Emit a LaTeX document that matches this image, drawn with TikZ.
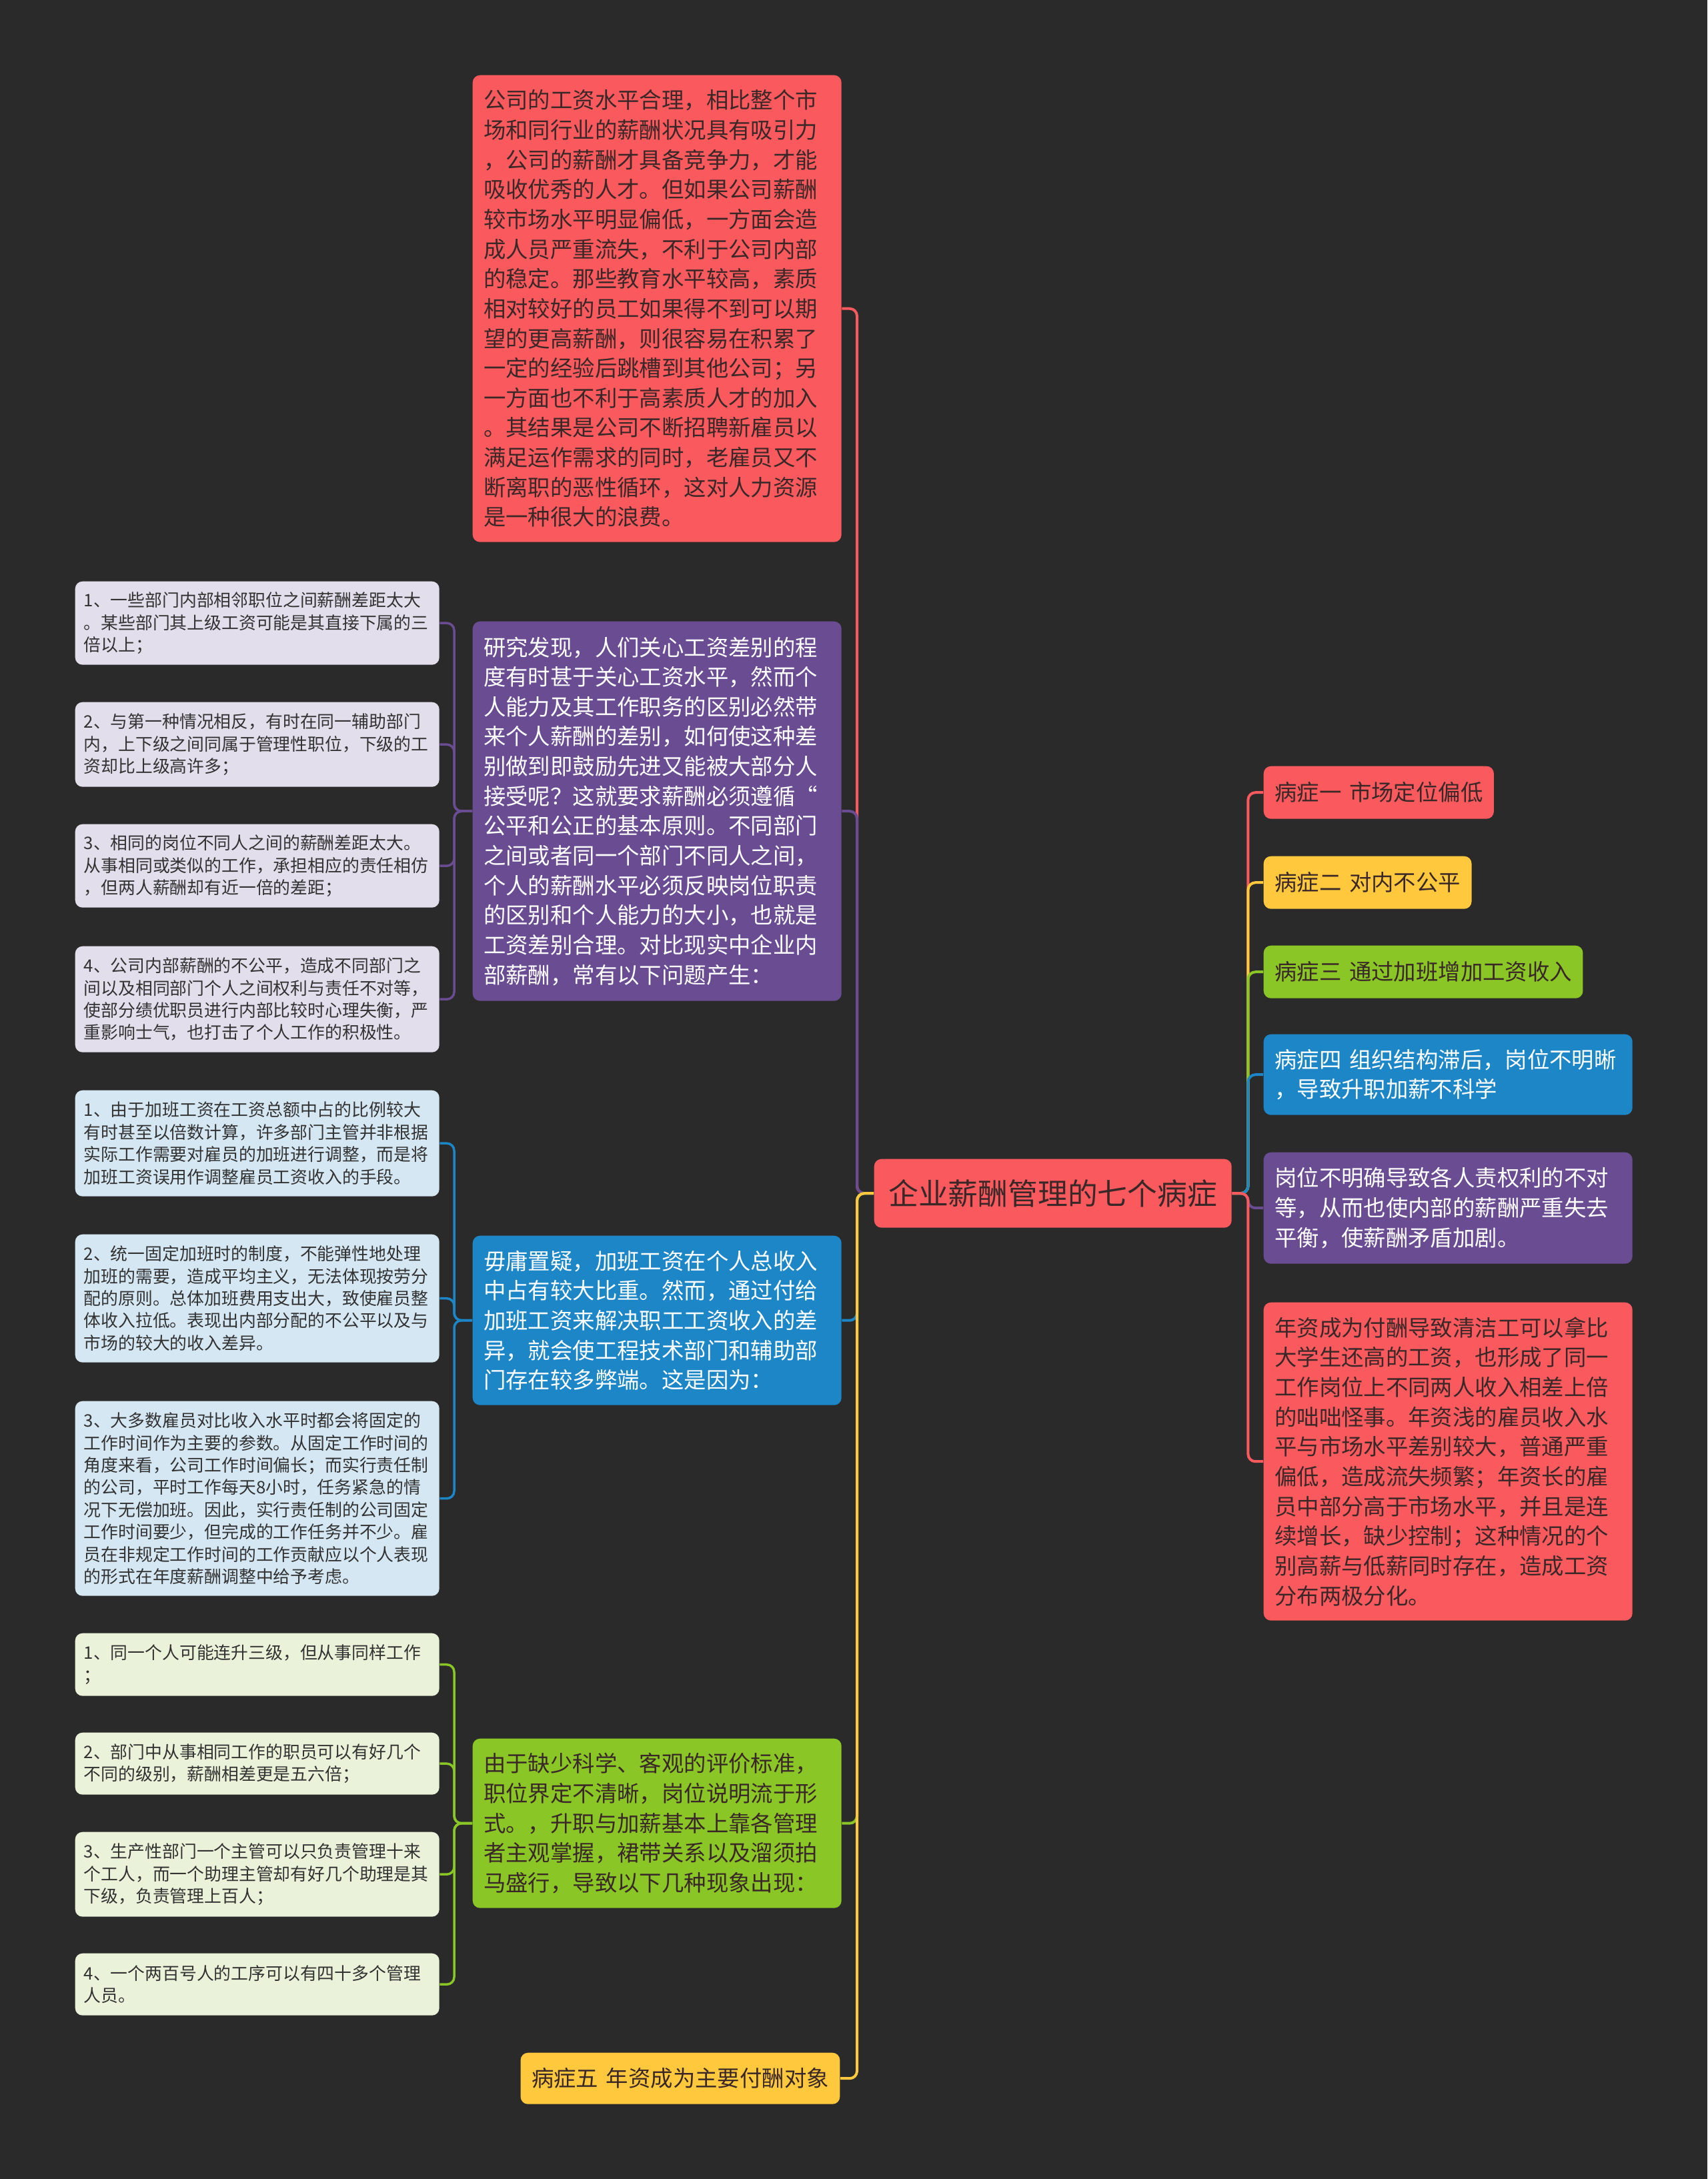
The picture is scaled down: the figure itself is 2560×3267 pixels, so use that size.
\documentclass[tikz,border=0pt]{standalone}
\usepackage{fontspec}
\setmainfont{Noto Sans CJK SC}

\definecolor{bgc}{RGB}{42,42,42}
\definecolor{redc}{RGB}{250,90,93}
\definecolor{yellowc}{RGB}{255,200,61}
\definecolor{greenc}{RGB}{138,198,38}
\definecolor{bluec}{RGB}{28,134,199}
\definecolor{purplec}{RGB}{105,76,146}
\definecolor{lavc}{RGB}{226,222,236}
\definecolor{lbluec}{RGB}{213,231,243}
\definecolor{lgreenc}{RGB}{234,243,217}
\definecolor{darktxt}{RGB}{58,40,40}
\definecolor{leaftxt}{RGB}{50,50,50}

\tikzset{
  box/.style={rounded corners=1.1mm, align=left, inner ysep=0pt},
  big/.style={box, font=\fontsize{9.5pt}{12.7pt}\selectfont, inner xsep=1.65mm},
  bigw/.style={big, text width=52mm},
  leaf/.style={box, anchor=north west, font=\fontsize{7.35pt}{9.5pt}\selectfont,
    inner xsep=1.3mm, text width=52mm, text=leaftxt},
  link/.style={line width=0.4mm, rounded corners=1.1mm},
  sublink/.style={line width=0.35mm, rounded corners=1.1mm}
}

\begin{document}
\begin{tikzpicture}[x=0.1mm,y=-0.1mm]
\fill[bgc] (0,0) rectangle (2560,3267);

% centre
\node[big, anchor=north west, fill=redc, text=darktxt, align=center,
  font=\fontsize{12.75pt}{15pt}\selectfont, minimum width=53.6mm, minimum height=10.3mm]
  (root) at (1310,1737) {企业薪酬管理的七个病症};

% left side
\node[bigw, anchor=north west, fill=redc, text=darktxt, minimum height=70mm] (level) at (708,112) {%
公司的工资水平合理，相比整个市\\
场和同行业的薪酬状况具有吸引力\\
，公司的薪酬才具备竞争力，才能\\
吸收优秀的人才。但如果公司薪酬\\
较市场水平明显偏低，一方面会造\\
成人员严重流失，不利于公司内部\\
的稳定。那些教育水平较高，素质\\
相对较好的员工如果得不到可以期\\
望的更高薪酬，则很容易在积累了\\
一定的经验后跳槽到其他公司；另\\
一方面也不利于高素质人才的加入\\
。其结果是公司不断招聘新雇员以\\
满足运作需求的同时，老雇员又不\\
断离职的恶性循环，这对人力资源\\
是一种很大的浪费。};

\node[bigw, anchor=north west, fill=purplec, text=white, minimum height=56.9mm] (fair) at (708,931) {%
研究发现，人们关心工资差别的程\\
度有时甚于关心工资水平，然而个\\
人能力及其工作职务的区别必然带\\
来个人薪酬的差别，如何使这种差\\
别做到即鼓励先进又能被大部分人\\
接受呢？这就要求薪酬必须遵循“\\
公平和公正的基本原则。不同部门\\
之间或者同一个部门不同人之间，\\
个人的薪酬水平必须反映岗位职责\\
的区别和个人能力的大小，也就是\\
工资差别合理。对比现实中企业内\\
部薪酬，常有以下问题产生：};

\node[bigw, anchor=north west, fill=bluec, text=white, minimum height=25.4mm] (overtime) at (708,1852) {%
毋庸置疑，加班工资在个人总收入\\
中占有较大比重。然而，通过付给\\
加班工资来解决职工工资收入的差\\
异，就会使工程技术部门和辅助部\\
门存在较多弊端。这是因为：};

\node[bigw, anchor=north west, fill=greenc, text=darktxt, minimum height=25.4mm] (promote) at (708,2606) {%
由于缺少科学、客观的评价标准，\\
职位界定不清晰，岗位说明流于形\\
式。，升职与加薪基本上靠各管理\\
者主观掌握，裙带关系以及溜须拍\\
马盛行，导致以下几种现象出现：};

\node[big, anchor=north east, fill=yellowc, text=darktxt, minimum height=7.7mm] (senior) at (1260,3077)
  {病症五\hspace{0.35em}年资成为主要付酬对象};

% leaves
\node[leaf, fill=lavc, minimum height=12.5mm] (fairA) at (112,871) {%
1、一些部门内部相邻职位之间薪酬差距太大\\
。某些部门其上级工资可能是其直接下属的三\\
倍以上；};
\node[leaf, fill=lavc, minimum height=12.7mm] (fairB) at (112,1052) {%
2、与第一种情况相反，有时在同一辅助部门\\
内，上下级之间同属于管理性职位，下级的工\\
资却比上级高许多；};
\node[leaf, fill=lavc, minimum height=12.5mm] (fairC) at (112,1235) {%
3、相同的岗位不同人之间的薪酬差距太大。\\
从事相同或类似的工作，承担相应的责任相仿\\
，但两人薪酬却有近一倍的差距；};
\node[leaf, fill=lavc, minimum height=15.9mm] (fairD) at (112,1418) {%
4、公司内部薪酬的不公平，造成不同部门之\\
间以及相同部门个人之间权利与责任不对等，\\
使部分绩优职员进行内部比较时心理失衡，严\\
重影响士气，也打击了个人工作的积极性。};

\node[leaf, fill=lbluec, minimum height=15.9mm] (overA) at (112,1634) {%
1、由于加班工资在工资总额中占的比例较大\\
有时甚至以倍数计算，许多部门主管并非根据\\
实际工作需要对雇员的加班进行调整，而是将\\
加班工资误用作调整雇员工资收入的手段。};
\node[leaf, fill=lbluec, minimum height=19.2mm] (overB) at (112,1850) {%
2、统一固定加班时的制度，不能弹性地处理\\
加班的需要，造成平均主义，无法体现按劳分\\
配的原则。总体加班费用支出大，致使雇员整\\
体收入拉低。表现出内部分配的不公平以及与\\
市场的较大的收入差异。};
\node[leaf, fill=lbluec, minimum height=29.2mm] (overC) at (112,2100) {%
3、大多数雇员对比收入水平时都会将固定的\\
工作时间作为主要的参数。从固定工作时间的\\
角度来看，公司工作时间偏长；而实行责任制\\
的公司，平时工作每天8小时，任务紧急的情\\
况下无偿加班。因此，实行责任制的公司固定\\
工作时间要少，但完成的工作任务并不少。雇\\
员在非规定工作时间的工作贡献应以个人表现\\
的形式在年度薪酬调整中给予考虑。};

\node[leaf, fill=lgreenc, minimum height=9.4mm] (promA) at (112,2448) {%
1、同一个人可能连升三级，但从事同样工作\\
；};
\node[leaf, fill=lgreenc, minimum height=9.3mm] (promB) at (112,2597) {%
2、部门中从事相同工作的职员可以有好几个\\
不同的级别，薪酬相差更是五六倍；};
\node[leaf, fill=lgreenc, minimum height=12.7mm] (promC) at (112,2746) {%
3、生产性部门一个主管可以只负责管理十来\\
个工人，而一个助理主管却有好几个助理是其\\
下级，负责管理上百人；};
\node[leaf, fill=lgreenc, minimum height=9.3mm] (promD) at (112,2928) {%
4、一个两百号人的工序可以有四十多个管理\\
人员。};

% right side
\node[big, anchor=north west, fill=redc, text=darktxt, minimum height=7.9mm] (sym1) at (1894,1148)
  {病症一\hspace{0.35em}市场定位偏低};
\node[big, anchor=north west, fill=yellowc, text=darktxt, minimum height=7.9mm] (sym2) at (1894,1283)
  {病症二\hspace{0.35em}对内不公平};
\node[big, anchor=north west, fill=greenc, text=darktxt, minimum height=7.9mm] (sym3) at (1894,1417)
  {病症三\hspace{0.35em}通过加班增加工资收入};
\node[bigw, anchor=north west, fill=bluec, text=white, minimum height=12.1mm] (sym4) at (1894,1550) {%
病症四\hspace{0.35em}组织结构滞后，岗位不明晰\\
，导致升职加薪不科学};
\node[bigw, anchor=north west, fill=purplec, text=white, minimum height=16.7mm] (unclear) at (1894,1727) {%
岗位不明确导致各人责权利的不对\\
等，从而也使内部的薪酬严重失去\\
平衡，使薪酬矛盾加剧。};
\node[bigw, anchor=north west, fill=redc, text=darktxt, minimum height=47.7mm] (gap) at (1894,1952) {%
年资成为付酬导致清洁工可以拿比\\
大学生还高的工资，也形成了同一\\
工作岗位上不同两人收入相差上倍\\
的咄咄怪事。年资浅的雇员收入水\\
平与市场水平差别较大，普通严重\\
偏低，造成流失频繁；年资长的雇\\
员中部分高于市场水平，并且是连\\
续增长，缺少控制；这种情况的个\\
别高薪与低薪同时存在，造成工资\\
分布两极分化。};

% links from the centre
\draw[link, redc] (root.west) -- ++(-25,0) |- (level.east);
\draw[link, purplec] (root.west) -- ++(-25,0) |- (fair.east);
\draw[link, bluec] (root.west) -- ++(-25,0) |- (overtime.east);
\draw[link, greenc] (root.west) -- ++(-25,0) |- (promote.east);
\draw[link, yellowc] (root.west) -- ++(-25,0) |- (senior.east);

\draw[link, redc] (root.east) -- ++(24,0) |- (sym1.west);
\draw[link, yellowc] (root.east) -- ++(24,0) |- (sym2.west);
\draw[link, greenc] (root.east) -- ++(24,0) |- (sym3.west);
\draw[link, bluec] (root.east) -- ++(24,0) |- (sym4.west);
\draw[link, purplec] (root.east) -- ++(24,0) |- (unclear.west);
\draw[link, redc] (root.east) -- ++(24,0) |- (gap.west);

% links to the leaves
\foreach \leafname in {fairA,fairB,fairC,fairD}
  \draw[sublink, purplec] (fair.west) -- ++(-27,0) |- (\leafname.east);
\foreach \leafname in {overA,overB,overC}
  \draw[sublink, bluec] (overtime.west) -- ++(-27,0) |- (\leafname.east);
\foreach \leafname in {promA,promB,promC,promD}
  \draw[sublink, greenc] (promote.west) -- ++(-27,0) |- (\leafname.east);
\end{tikzpicture}
\end{document}
